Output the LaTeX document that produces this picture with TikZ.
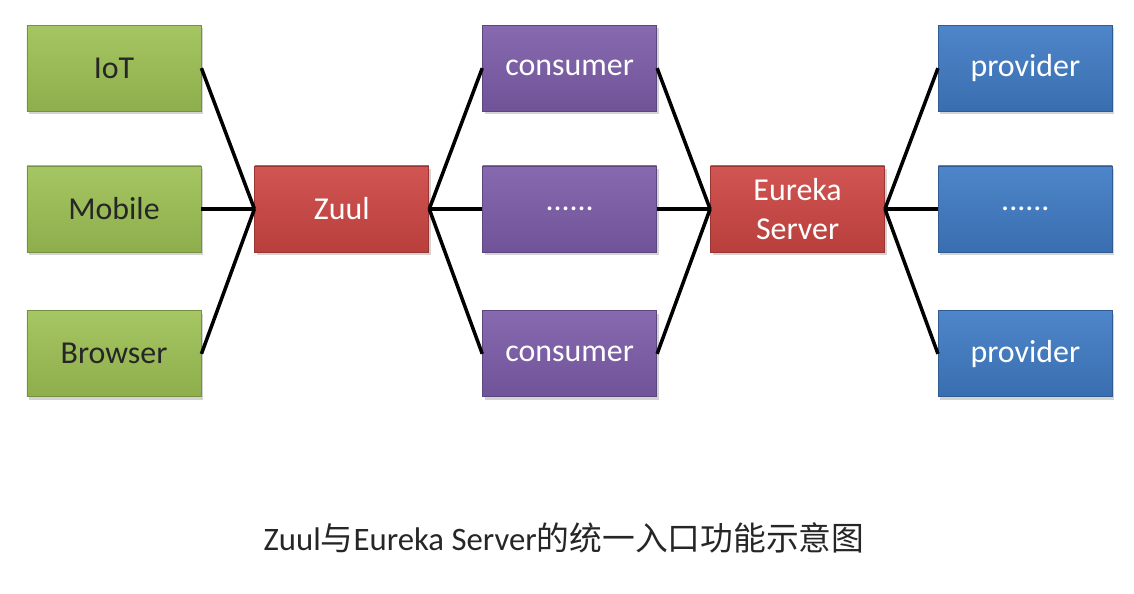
\documentclass[tikz,border=0pt]{standalone}
\usepackage{fontspec}
\setmainfont{Carlito}
\newfontfamily\cjk{Noto Sans CJK SC}
\usetikzlibrary{positioning,shadows}

\definecolor{leafgreen}{HTML}{9EC155}
\definecolor{brickred}{HTML}{CD4643}
\definecolor{grape}{HTML}{7C5CA8}
\definecolor{sky}{HTML}{3F7BC4}

\tikzstyle{box}=[draw=#1!75!black,line width=0.6pt,top color=#1!92!white,bottom color=#1!90!black,
  minimum width=4.35cm,minimum height=2.15cm,inner sep=0pt,align=center,text=white,
  font=\fontsize{22.7}{28}\selectfont,drop shadow={opacity=0.35,shadow xshift=1.5pt,shadow yshift=-2pt}]
\tikzstyle{link}=[line width=2.5pt,black]
\newcommand{\mybox}[4]{\node[box=#1,#3] (#2) {#4};}
\newcommand{\myedge}[2]{\draw[link] (#1.east) -- (#2.west);}

\begin{document}
\begin{tikzpicture}[node distance=1.35cm and 1.325cm]
    \useasboundingbox (-2.85,5.225) rectangle (25.5,-9.625);
    % clients, gateway, services, registry, providers
    \mybox{leafgreen}{mobile}{text=black!85}{Mobile}
    \mybox{leafgreen}{iot}{text=black!85,above=of mobile}{IoT}
    \mybox{leafgreen}{browser}{text=black!85,below=1.45cm of mobile}{Browser}
    \mybox{brickred}{zuul}{right=of mobile}{Zuul}
    \mybox{grape}{cons2}{right=of zuul}{......}
    \mybox{grape}{cons1}{above=of cons2}{consumer}
    \mybox{grape}{cons3}{below=1.45cm of cons2}{consumer}
    \mybox{brickred}{eureka}{right=of cons2}{Eureka\\Server}
    \mybox{sky}{prov2}{right=of eureka}{......}
    \mybox{sky}{prov1}{above=of prov2}{provider}
    \mybox{sky}{prov3}{below=1.45cm of prov2}{provider}

    \myedge{iot}{zuul}
    \myedge{mobile}{zuul}
    \myedge{browser}{zuul}
    \myedge{zuul}{cons1}
    \myedge{zuul}{cons2}
    \myedge{zuul}{cons3}
    \myedge{cons1}{eureka}
    \myedge{cons2}{eureka}
    \myedge{cons3}{eureka}
    \myedge{eureka}{prov1}
    \myedge{eureka}{prov2}
    \myedge{eureka}{prov3}

    \node[font=\fontsize{23.3}{28}\selectfont,text=black!85] (caption) at (11.25,-8.225)
        {Zuul{\cjk 与}Eureka Server{\cjk 的统一入口功能示意图}};
\end{tikzpicture}
\end{document}
